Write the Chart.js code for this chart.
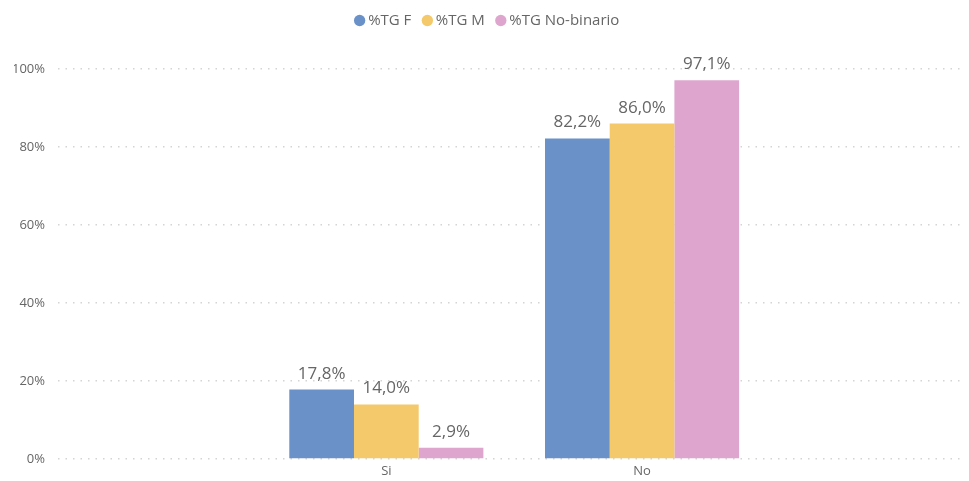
<!DOCTYPE html>
<html>
<head>
<meta charset="utf-8">
<script src="https://cdn.jsdelivr.net/npm/chart.js@4/dist/chart.umd.min.js"></script>
<style>
html,body{margin:0;padding:0;background:#fff;}
#wrap{width:969px;height:481px;position:relative;}
</style>
</head>
<body>
<div id="wrap"><canvas id="c"></canvas></div>
<script>
const categories = ['Si', 'No'];
const seriesNames = ['%TG F', '%TG M', '%TG No-binario'];
const valuesF = [17.8, 82.2];
const valuesM = [14.0, 86.0];
const valuesNB = [2.9, 97.1];
const yTicks = [0, 20, 40, 60, 80, 100];
const colors = ['#6A91C8', '#F3C96B', '#DEA6CF'];

const toPoints = arr => arr.map((v, i) => ({x: i, y: v}));
const fmt = v => v.toFixed(1).replace('.', ',') + '%';

const labelPlugin = {
  id: 'barLabels',
  afterDatasetsDraw(chart) {
    const ctx = chart.ctx;
    ctx.save();
    ctx.font = '17px "Open Sans"';
    ctx.fillStyle = '#666666';
    ctx.textAlign = 'center';
    ctx.textBaseline = 'alphabetic';
    chart.data.datasets.forEach((ds, di) => {
      const meta = chart.getDatasetMeta(di);
      meta.data.forEach((el, i) => {
        ctx.fillText(fmt(ds.data[i].y), el.x, el.y - 11);
      });
    });
    ctx.restore();
  }
};

const legendHeight = {
  id: 'legendHeight',
  beforeInit(chart) {
    const orig = chart.legend.fit;
    chart.legend.fit = function () {
      orig.call(this);
      this.height = 71;
    };
  }
};

new Chart(document.getElementById('c'), {
  type: 'bar',
  data: {
    datasets: [
      {label: seriesNames[0], data: toPoints(valuesF), backgroundColor: colors[0]},
      {label: seriesNames[1], data: toPoints(valuesM), backgroundColor: colors[1]},
      {label: seriesNames[2], data: toPoints(valuesNB), backgroundColor: colors[2]}
    ]
  },
  plugins: [labelPlugin, legendHeight],
  options: {
    responsive: true,
    maintainAspectRatio: false,
    animation: false,
    layout: {padding: {top: -2, left: 14, right: 5, bottom: 0}},
    datasets: {bar: {categoryPercentage: 0.759, barPercentage: 1.0}},
    plugins: {
      legend: {
        position: 'top',
        align: 'center',
        labels: {
          usePointStyle: true,
          pointStyle: 'circle',
          boxWidth: 2,
          boxHeight: 8,
          padding: 15,
          color: '#666666',
          font: {family: '"Open Sans"', size: 15}
        }
      },
      tooltip: {enabled: false}
    },
    scales: {
      x: {
        type: 'linear',
        offset: false,
        min: -1.284,
        max: 2.259,
        afterBuildTicks(scale) {
          scale.ticks = categories.map((c, i) => ({value: i}));
        },
        afterFit(scale) { scale.height = 22; },
        grid: {display: false, drawTicks: false, tickLength: 0},
        border: {display: false},
        ticks: {
          padding: 4,
          autoSkip: false,
          maxRotation: 0,
          color: '#666666',
          font: {family: '"Open Sans"', size: 13},
          callback: v => categories[v]
        }
      },
      y: {
        min: 0,
        max: 100,
        afterBuildTicks(scale) {
          scale.ticks = yTicks.map(v => ({value: v}));
        },
        afterFit(scale) { scale.width = 44; },
        border: {display: false, dash: [1.5, 6]},
        grid: {
          color: '#d4d4d4',
          lineWidth: 1.5,
          drawTicks: false
        },
        ticks: {
          padding: 13,
          color: '#666666',
          font: {family: '"Open Sans"', size: 13},
          callback: v => v + '%'
        }
      }
    }
  }
});
</script>
</body>
</html>
